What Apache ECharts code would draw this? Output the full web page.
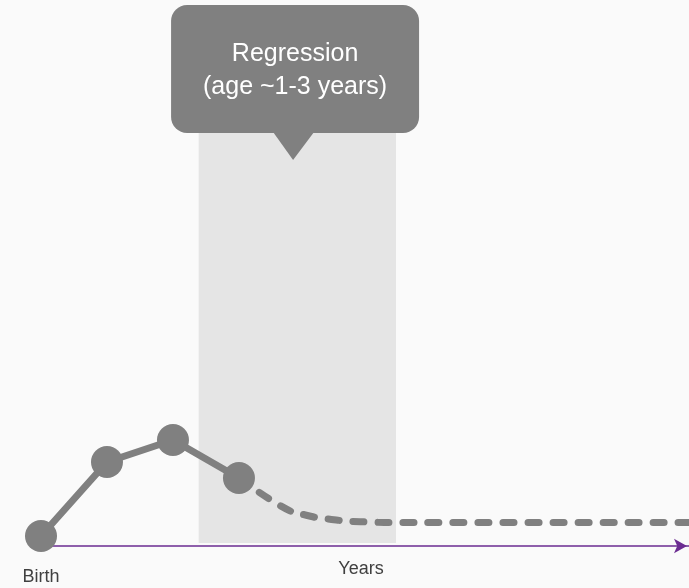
<!DOCTYPE html>
<html>
<head>
<meta charset="utf-8">
<script src="https://cdn.jsdelivr.net/npm/echarts@6/dist/echarts.min.js"></script>
<style>
  html, body { margin: 0; padding: 0; background: #fafafa; }
  #chart { width: 689px; height: 588px; }
</style>
</head>
<body>
<div id="chart"></div>
<script>
// Observed milestones (solid) and the later course (dashed)
var observedX = [0, 1, 2, 3];
var observedY = [2, 16.8, 21.2, 13.6];
var laterX = [3, 3.92, 4.25, 4.7, 5.2, 9.82];
var laterY = [13.6, 6.4, 5.5, 4.9, 4.7, 4.7];

// Regression window on the time axis
var regressionStart = 2.39;
var regressionEnd = 5.38;
var regressionTop = 83;
var regressionTitle = 'Regression';
var regressionNote = '(age ~1-3 years)';

var axisStartLabel = 'Birth';
var axisTitle = 'Years';

function pairs(xs, ys) {
  return xs.map(function (x, i) { return [x, ys[i]]; });
}

var chart = echarts.init(document.getElementById('chart'), null, { renderer: 'canvas' });
var grey = '#808080';
var font = 'Liberation Sans, Arial, sans-serif';

chart.setOption({
  backgroundColor: '#fafafa',
  animation: false,
  grid: { left: 41, right: 0, top: 46, bottom: 42, containLabel: false, outerBoundsMode: 'none' },
  xAxis: {
    type: 'value',
    min: 0,
    max: 9.82,
    interval: 1,
    name: axisTitle,
    nameLocation: 'middle',
    nameGap: 14,
    nameMoveOverlap: false,
    nameTextStyle: { color: '#404040', fontSize: 18, fontFamily: font, padding: [0, 8, 0, 0] },
    axisLine: {
      show: true,
      lineStyle: { color: '#6b2c91', width: 1.5 },
      symbol: ['none', 'arrow'],
      symbolSize: [11, 13],
      symbolOffset: [0, -2]
    },
    axisTick: { show: false },
    splitLine: { show: false },
    axisLabel: {
      margin: 22,
      color: '#404040',
      fontSize: 18,
      fontFamily: font,
      showMaxLabel: false,
      formatter: function (v) { return v === 0 ? axisStartLabel : ''; }
    }
  },
  yAxis: {
    type: 'value',
    min: 0,
    max: 100,
    show: false
  },
  series: [
    {
      name: 'window',
      type: 'line',
      data: [],
      silent: true,
      z: 1,
      markArea: {
        silent: true,
        itemStyle: { color: '#e5e5e5' },
        data: [[{ coord: [regressionStart, 0.6] }, { coord: [regressionEnd, regressionTop] }]]
      }
    },
    {
      name: 'later',
      type: 'line',
      data: pairs(laterX, laterY),
      showSymbol: false,
      smooth: 0.2,
      smoothMonotone: 'x',
      z: 3,
      lineStyle: { color: grey, width: 7, type: [11, 14], cap: 'round' }
    },
    {
      name: 'observed',
      type: 'line',
      data: pairs(observedX, observedY),
      symbol: 'circle',
      symbolSize: 32,
      z: 4,
      itemStyle: { color: grey },
      lineStyle: { color: grey, width: 7 }
    }
  ]
});

// Callout bubble above the regression window
var tip = chart.convertToPixel({ gridIndex: 0 }, [3.82, 77.2]);
var boxW = 248, boxH = 128, tail = 27;
var boxLeft = tip[0] - 122;
var boxTop = tip[1] - tail - boxH;
chart.setOption({
  graphic: [
    {
      type: 'rect',
      shape: { x: boxLeft, y: boxTop, width: boxW, height: boxH, r: 16 },
      style: { fill: grey },
      z: 100
    },
    {
      type: 'polygon',
      shape: { points: [[tip[0] - 20, boxTop + boxH - 1], [tip[0] + 21, boxTop + boxH - 1], [tip[0], tip[1]]] },
      style: { fill: grey },
      z: 100
    },
    {
      type: 'text',
      x: boxLeft + boxW / 2,
      y: boxTop + boxH / 2 + 2,
      style: {
        text: regressionTitle + '\n' + regressionNote,
        fill: '#ffffff',
        fontSize: 25,
        lineHeight: 33,
        fontFamily: font,
        align: 'center',
        verticalAlign: 'middle'
      },
      z: 101
    }
  ]
});
</script>
</body>
</html>
